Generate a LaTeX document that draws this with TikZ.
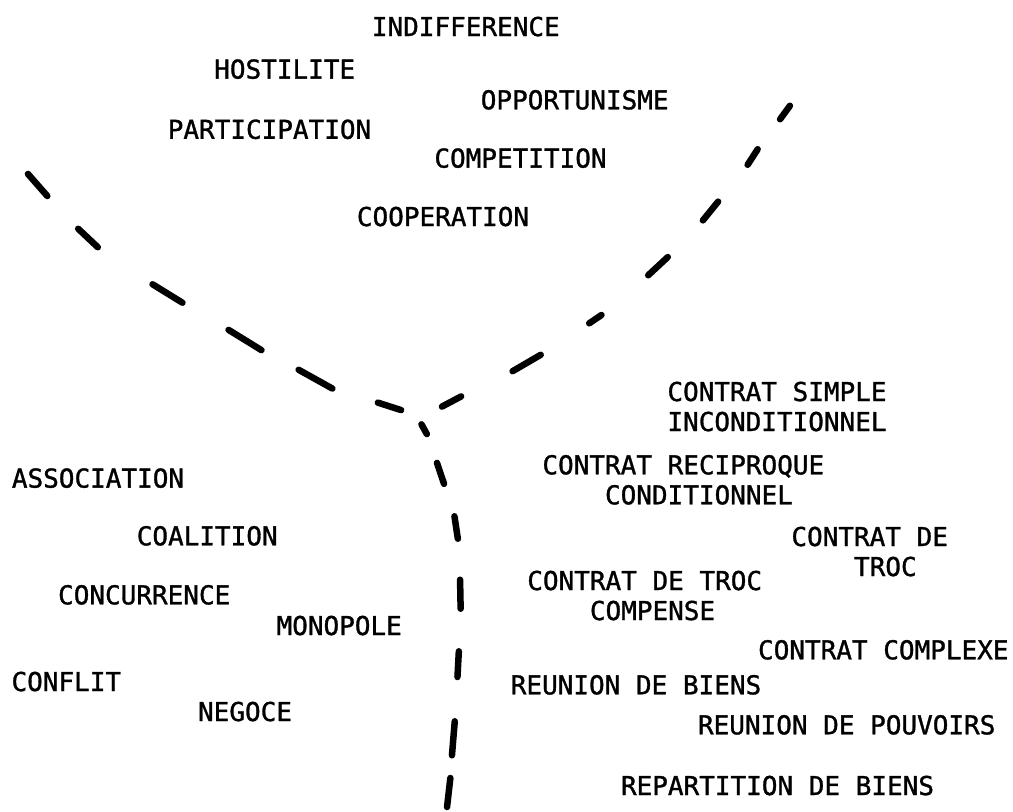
\documentclass[tikz,border=0pt]{standalone}
\usepackage{fontspec}
\newfontfamily\typew[FakeBold=1.2]{DejaVu Sans Mono}
\begin{document}
\begin{tikzpicture}[x=1pt,y=-1pt,
  lbl/.style={anchor=north,inner sep=0pt,outer sep=0pt,
    font=\typew\fontsize{26pt}{30pt}\selectfont,text=black},
  lbll/.style={lbl,align=left},
  seg/.style={draw=black,line width=6.5pt,line cap=round,
    shorten <=3pt,shorten >=3pt}]
\useasboundingbox[fill=white] (0,0) rectangle (1013,812);

% upper region
\node[lbl] (indiff) at (465.8,16.7) {INDIFFERENCE};
\node[lbl] (host)   at (284.7,59.3) {HOSTILITE};
\node[lbl] (opport) at (574.7,90)   {OPPORTUNISME};
\node[lbl] (partic) at (269.5,119.5){PARTICIPATION};
\node[lbl] (compet) at (520.5,148.3){COMPETITION};
\node[lbl] (coop)   at (443,206.7)  {COOPERATION};

% left region
\node[lbl] (assoc)  at (98,468.3)   {ASSOCIATION};
\node[lbl] (coal)   at (207.2,526)  {COALITION};
\node[lbl] (concur) at (144.2,585)  {CONCURRENCE};
\node[lbl] (monop)  at (339.2,615.7){MONOPOLE};
\node[lbl] (confl)  at (66.3,671.7) {CONFLIT};
\node[lbl] (negoce) at (245,701.7)  {NEGOCE};

% right region
\node[lbll] (csimple) at (777,381.7) {CONTRAT SIMPLE\\INCONDITIONNEL};
\node[lbll] (crecip)  at (683.3,455) {CONTRAT RECIPROQUE\\\phantom{XXXX}CONDITIONNEL};
\node[lbll] (ctroc)   at (869.7,526.7) {CONTRAT DE\\\phantom{XXXX}TROC};
\node[lbll] (ctrocc)  at (644.7,570.7) {CONTRAT DE TROC\\\phantom{XXXX}COMPENSE};
\node[lbl] (ccompl)   at (883.3,640) {CONTRAT COMPLEXE};
\node[lbl] (rbiens)   at (636,675)   {REUNION DE BIENS};
\node[lbl] (rpouv)    at (846.7,715) {REUNION DE POUVOIRS};
\node[lbl] (repart)   at (777.5,775.7) {REPARTITION DE BIENS};

% left branch of the dashed Y
\draw[seg] (26,171.7) -- (49.3,198.3);
\draw[seg] (76,226.7) -- (100,249.3);
\draw[seg] (150,282.7) -- (185,304.3);
\draw[seg] (226,328.3) -- (264,351.7);
\draw[seg] (296,368.3) -- (335,390);
\draw[seg] (375,401.7) -- (404,411);

% right branch
\draw[seg] (439.3,408) -- (463.8,395);
\draw[seg] (510,372.7) -- (543.3,353.3);
\draw[seg] (586.7,325) -- (604,313.3);
\draw[seg] (646,277.3) -- (670,255);
\draw[seg] (701,222.7) -- (720,199.3);
\draw[seg] (746,167.3) -- (759.3,146.7);
\draw[seg] (778.3,121.7) -- (791.7,103.3);

% lower branch
\draw[seg] (420,421.7) -- (428.3,436.7);
\draw[seg] (436,460) -- (445,486.7);
\draw[seg] (454,513.3) -- (458.3,541.7);
\draw[seg] (460,576.7) -- (460.7,611.7);
\draw[seg] (459,648.3) -- (457.3,680);
\draw[seg] (455,718.3) -- (451.7,758.3);
\draw[seg] (450.7,775) -- (446.7,810);
\end{tikzpicture}
\end{document}
